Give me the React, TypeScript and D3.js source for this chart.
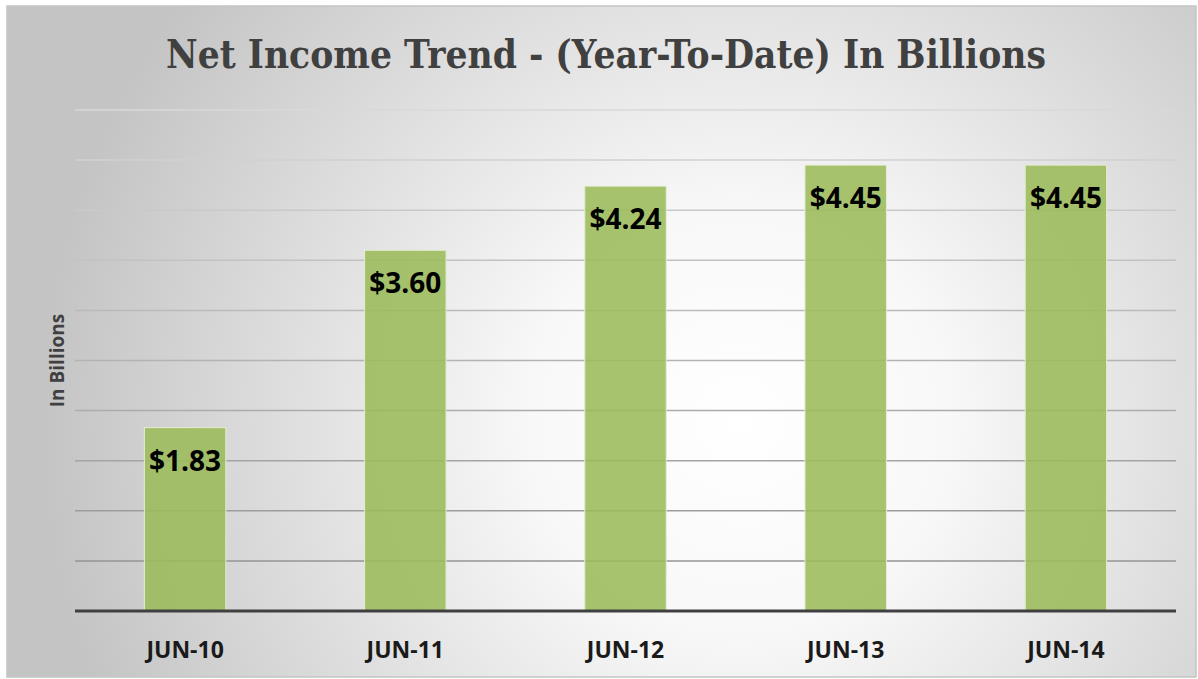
// Net income year-to-date bars, in billions, on a radial grey backdrop.
import { useEffect, useRef } from "react";
import * as d3 from "d3";

const categories = ["JUN-10", "JUN-11", "JUN-12", "JUN-13", "JUN-14"];
const netIncome = [1.83, 3.6, 4.24, 4.45, 4.45];
const gridTicks = [0, 0.5, 1, 1.5, 2, 2.5, 3, 3.5, 4, 4.5, 5];

export default function App() {
  const svgRef = useRef<SVGSVGElement>(null);
  const width = 1198;
  const height = 679;
  const margin = { top: 110, right: 22, bottom: 68, left: 75 };

  useEffect(() => {
    const svg = d3.select(svgRef.current);
    svg.selectAll("*").remove();

    const innerW = width - margin.left - margin.right;
    const innerH = height - margin.top - margin.bottom;

    const defs = svg.append("defs");
    const bg = defs.append("radialGradient")
      .attr("id", "bg")
      .attr("gradientUnits", "userSpaceOnUse")
      .attr("cx", 740).attr("cy", 420).attr("r", 700);
    bg.append("stop").attr("offset", "0%").attr("stop-color", "#ffffff");
    bg.append("stop").attr("offset", "30%").attr("stop-color", "#f8f8f8");
    bg.append("stop").attr("offset", "100%").attr("stop-color", "#c4c4c4");

    // chart frame
    svg.append("rect")
      .attr("x", 7).attr("y", 6)
      .attr("width", width - 9).attr("height", height - 8)
      .attr("fill", "url(#bg)")
      .attr("stroke", "#c4c4c4")
      .attr("stroke-width", 1.5);

    const g = svg.append("g").attr("transform", `translate(${margin.left},${margin.top})`);

    const x = d3.scaleBand().domain(categories).range([0, innerW]).paddingInner(0.63).paddingOuter(0.315);
    const y = d3.scaleLinear().domain([0, 5]).range([innerH, 0]);

    // gridlines, lighter toward the top
    const gridColor = d3.scaleLinear<string>().domain([5, 0]).range(["#d8d8d8", "#8e8e8e"]);
    g.append("g")
      .selectAll("line")
      .data(gridTicks.filter(d => d > 0))
      .enter()
      .append("line")
      .attr("x1", 0).attr("x2", innerW)
      .attr("y1", d => y(d)).attr("y2", d => y(d))
      .attr("stroke", d => gridColor(d))
      .attr("stroke-width", 1.5);

    // bars
    g.selectAll(".bar")
      .data(netIncome)
      .enter()
      .append("rect")
      .attr("class", "bar")
      .attr("x", (_, i) => x(categories[i]) ?? 0)
      .attr("y", d => y(d))
      .attr("width", x.bandwidth())
      .attr("height", d => innerH - y(d))
      .attr("fill", "#9bbb59")
      .attr("fill-opacity", 0.88)
      .attr("stroke", "#e4eed3")
      .attr("stroke-width", 1);

    // value labels inside bar tops
    g.selectAll(".label")
      .data(netIncome)
      .enter()
      .append("text")
      .attr("class", "label")
      .attr("x", (_, i) => (x(categories[i]) ?? 0) + x.bandwidth() / 2)
      .attr("y", d => y(d) + 43)
      .attr("text-anchor", "middle")
      .attr("font-family", "'Open Sans', sans-serif")
      .attr("font-weight", 700)
      .attr("font-size", 28)
      .attr("fill", "#000")
      .text(d => `$${d.toFixed(2)}`);

    // baseline
    g.append("line")
      .attr("x1", 0).attr("x2", innerW)
      .attr("y1", innerH).attr("y2", innerH)
      .attr("stroke", "#404040")
      .attr("stroke-width", 3);

    // category labels
    g.selectAll(".cat")
      .data(categories)
      .enter()
      .append("text")
      .attr("class", "cat")
      .attr("x", d => (x(d) ?? 0) + x.bandwidth() / 2)
      .attr("y", innerH + 47)
      .attr("text-anchor", "middle")
      .attr("font-family", "'Open Sans', sans-serif")
      .attr("font-weight", 700)
      .attr("font-size", 23)
      .attr("fill", "#1a1a1a")
      .text(d => d);

    // axis title
    svg.append("text")
      .attr("transform", `translate(64,${margin.top + innerH / 2}) rotate(-90)`)
      .attr("text-anchor", "middle")
      .attr("font-family", "'Open Sans', sans-serif")
      .attr("font-weight", 700)
      .attr("font-size", 19)
      .attr("fill", "#404040")
      .text("In Billions");

    // chart title
    svg.append("text")
      .attr("x", 606)
      .attr("y", 68)
      .attr("text-anchor", "middle")
      .attr("font-family", "'DejaVu Serif', serif")
      .attr("font-weight", 700)
      .attr("font-size", 40)
      .attr("textLength", 880)
      .attr("lengthAdjust", "spacingAndGlyphs")
      .attr("fill", "#404040")
      .text("Net Income Trend - (Year-To-Date) In Billions");
  }, []);

  return (
    <svg
      ref={svgRef}
      width={width}
      height={height}
      style={{ position: "absolute", left: 0, top: 0 }}
    />
  );
}
